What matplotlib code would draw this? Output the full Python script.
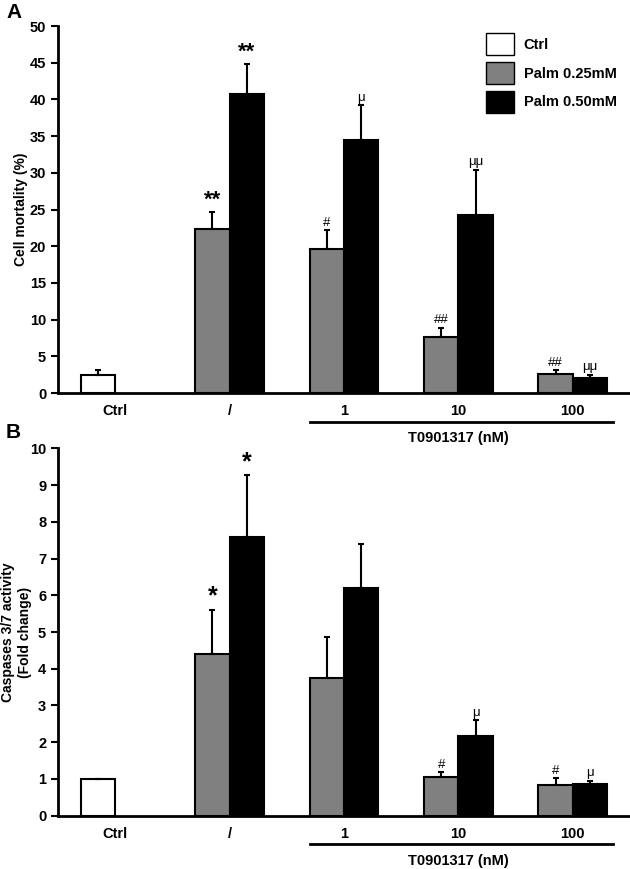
import matplotlib.pyplot as plt
import matplotlib.transforms as mtransforms
from matplotlib.patches import Patch

plt.rcParams['font.family'] = ['Liberation Sans', 'DejaVu Sans']

categories = ["Ctrl", "/", "1", "10", "100"]
series = ["Ctrl", "Palm 0.25mM", "Palm 0.50mM"]

# panel A: cell mortality (%)
mort_ctrl = [2.5]
mort_ctrl_err = [0.6]
mort_p25 = [22.4, 19.6, 7.6, 2.6]
mort_p25_err = [2.2, 2.6, 1.3, 0.5]
mort_p50 = [40.8, 34.5, 24.2, 2.1]
mort_p50_err = [4.0, 4.7, 6.2, 0.4]
mort_p25_sig = ["**", "#", "##", "##"]
mort_p50_sig = ["**", "μ", "μμ", "μμ"]

# panel B: caspases 3/7 activity (fold change)
casp_ctrl = [1.0]
casp_ctrl_err = [0.0]
casp_p25 = [4.40, 3.76, 1.06, 0.84]
casp_p25_err = [1.2, 1.10, 0.12, 0.18]
casp_p50 = [7.58, 6.19, 2.17, 0.86]
casp_p50_err = [1.68, 1.20, 0.43, 0.09]
casp_p25_sig = ["*", "", "#", "#"]
casp_p50_sig = ["*", "", "μ", "μ"]

W = 0.30
GRAY = "#808080"


def draw_panel(ax, ctrl, ctrl_err, p25, p25_err, p50, p50_err, s25, s50, ymax, ystep, ylabel, star_size):
    xs = [1, 2, 3, 4]
    kw = dict(width=W, edgecolor="black", linewidth=1.5,
              error_kw=dict(elinewidth=1.5, capsize=2, capthick=1.5, ecolor="black"))
    ax.bar([0 - W / 2], ctrl, yerr=[[0] * len(ctrl), ctrl_err], color="white", **kw)
    ax.bar([x - W / 2 for x in xs], p25, yerr=[[0] * 4, p25_err], color=GRAY, **kw)
    ax.bar([x + W / 2 for x in xs], p50, yerr=[[0] * 4, p50_err], color="black", **kw)

    off = ymax * 0.004
    for x, v, e, s in zip(xs, p25, p25_err, s25):
        big = "*" in s
        ax.text(x - W / 2, v + e + off, s, ha="center", va="bottom",
                fontsize=star_size if big else 9.5, fontweight="bold" if big else "normal")
    for x, v, e, s in zip(xs, p50, p50_err, s50):
        big = "*" in s
        ax.text(x + W / 2, v + e + off, s, ha="center", va="bottom",
                fontsize=star_size if big else 9.5, fontweight="bold" if big else "normal")

    ax.set_xlim(-0.5, 4.5)
    ax.set_ylim(0, ymax)
    ax.set_yticks([i * ystep for i in range(int(ymax / ystep) + 1)])
    ax.set_xticks(range(5))
    ax.set_xticklabels(categories, fontsize=10.5, fontweight="bold")
    ax.tick_params(axis="x", length=0, pad=8)
    ax.tick_params(axis="y", direction="out", length=5, width=1.5, labelsize=10.5)
    for lab in ax.get_yticklabels():
        lab.set_fontweight("bold")
    for sp in ["top", "right"]:
        ax.spines[sp].set_visible(False)
    for sp in ["left", "bottom"]:
        ax.spines[sp].set_linewidth(2)
    ax.set_ylabel(ylabel, fontsize=10, fontweight="bold")

    trans = mtransforms.blended_transform_factory(ax.transData, ax.transAxes)
    ax.plot([1.7, 4.35], [-0.078, -0.078], color="black", lw=2, transform=trans, clip_on=False)
    ax.text(3.0, -0.103, "T0901317 (nM)", transform=trans, ha="center", va="top",
            fontsize=10.5, fontweight="bold")


fig = plt.figure(figsize=(6.3, 8.69), dpi=100)
axA = fig.add_axes([58 / 630, 476 / 869, 572 / 630, 367 / 869])
axB = fig.add_axes([58 / 630, 53.3 / 869, 572 / 630, 367.4 / 869])

draw_panel(axA, mort_ctrl, mort_ctrl_err, mort_p25, mort_p25_err, mort_p50, mort_p50_err,
           mort_p25_sig, mort_p50_sig, 50, 5, "Cell mortality (%)", 16)
draw_panel(axB, casp_ctrl, casp_ctrl_err, casp_p25, casp_p25_err, casp_p50, casp_p50_err,
           casp_p25_sig, casp_p50_sig, 10, 1, "Caspases 3/7 activity\n(Fold change)", 18)
axA.yaxis.set_label_coords(-0.052, 0.5)
axB.yaxis.set_label_coords(-0.046, 0.5)

handles = [Patch(facecolor=c, edgecolor="black", linewidth=1) for c in ["white", GRAY, "black"]]
leg = axA.legend(handles, series, loc="upper right", bbox_to_anchor=(1.0, 1.016), frameon=False,
                 prop=dict(weight="bold", size=10.5), handlelength=1.9, handleheight=1.9,
                 labelspacing=0.5, handletextpad=0.7)

fig.text(14 / 630, 1 - 13 / 869, "A", fontsize=15, fontweight="bold", ha="center", va="center")
fig.text(13 / 630, 1 - 432 / 869, "B", fontsize=15, fontweight="bold", ha="center", va="center")

fig.savefig("out.png", dpi=100)
